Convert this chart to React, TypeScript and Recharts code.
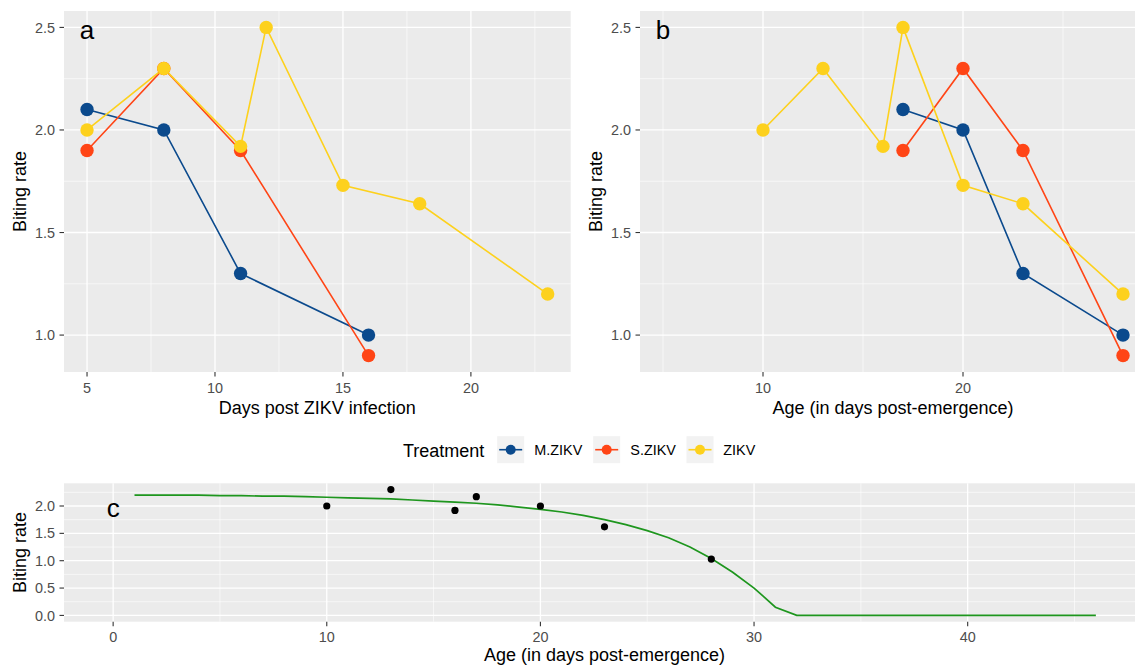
import React from 'react';
import { ComposedChart, Line, XAxis, YAxis, CartesianGrid, ReferenceDot } from 'recharts';

// ---------- data ----------
const treatments = ['M.ZIKV', 'S.ZIKV', 'ZIKV'];
const colors = ['#0B4A8D', '#FF4516', '#FDD11D'];

// panel a: days post infection
const mDays = [5, 8, 11, 16];
const sDays = [5, 8, 11, 16];
const zDays = [5, 8, 11, 12, 15, 18, 23];
// panel b: age (days post-emergence)
const mAge = [17, 20, 23, 28];
const sAge = [17, 20, 23, 28];
const zAge = [10, 13, 16, 17, 20, 23, 28];
// biting rates
const mRate = [2.1, 2.0, 1.3, 1.0];
const sRate = [1.9, 2.3, 1.9, 0.9];
const zRate = [2.0, 2.3, 1.92, 2.5, 1.73, 1.64, 1.2];

// panel c: mean biting rate by age and fitted curve
const meanAge = [10, 13, 16, 17, 20, 23, 28];
const meanRate = [2.0, 2.3, 1.92, 2.17, 2.0, 1.62, 1.03];
const fitAge = [1, 2, 3, 4, 5, 6, 7, 8, 9, 10, 11, 12, 13, 14, 15, 16, 17, 18, 19, 20, 21, 22, 23, 24, 25, 26, 27, 28, 29, 30, 31, 32, 33, 34, 35, 36, 37, 38, 39, 40, 41, 42, 43, 44, 45, 46];
const fitRate = [2.20, 2.20, 2.20, 2.20, 2.19, 2.19, 2.18, 2.18, 2.17, 2.16, 2.15, 2.14, 2.13, 2.11, 2.09, 2.07, 2.05, 2.02, 1.98, 1.94, 1.89, 1.83, 1.75, 1.66, 1.55, 1.42, 1.25, 1.04, 0.79, 0.50, 0.15, 0, 0, 0, 0, 0, 0, 0, 0, 0, 0, 0, 0, 0, 0, 0];

// tick values
const ticksAX = [5, 10, 15, 20];
const minorAX = [7.5, 12.5, 17.5, 22.5];
const ticksBX = [10, 20];
const minorBX = [5, 15, 25];
const ticksABY = [1.0, 1.5, 2.0, 2.5];
const minorABY = [1.25, 1.75, 2.25];
const ticksCX = [0, 10, 20, 30, 40];
const minorCX = [5, 15, 25, 35, 45];
const ticksCY = [0, 0.5, 1.0, 1.5, 2.0];
const minorCY = [0.25, 0.75, 1.25, 1.75, 2.25];

const zip = (xs: number[], ys: number[]) => xs.map((x, i) => ({ x, y: ys[i] }));

const seriesA = [zip(mDays, mRate), zip(sDays, sRate), zip(zDays, zRate)];
const seriesB = [zip(mAge, mRate), zip(sAge, sRate), zip(zAge, zRate)];
const meanPts = zip(meanAge, meanRate);
const fitPts = zip(fitAge, fitRate);

// ---------- styles ----------
const FONT = '"Liberation Sans", Arial, Helvetica, sans-serif';
const BG = '#EBEBEB';
const tickStyle = { fill: '#4D4D4D', fontSize: 14.4, fontFamily: FONT };
const tickLine = { stroke: '#333333', strokeWidth: 1.1 };
const fmt1 = (v: number) => v.toFixed(1);

const letter = (txt: string) => (props: any) => (
  <text x={props.cx} y={props.cy} dy="0.43em" textAnchor="middle" fontSize={26} fontFamily={FONT} fill="#000">
    {txt}
  </text>
);

const renderLines = (series: { x: number; y: number }[][]) => [
  ...series.map((d, i) => (
    <Line key={'l' + i} data={d} dataKey="y" type="linear" stroke={colors[i]} strokeWidth={1.6} dot={false} activeDot={false} isAnimationActive={false} />
  )),
  ...series.map((d, i) => (
    <Line key={'p' + i} data={d} dataKey="y" type="linear" stroke="none" strokeWidth={0} dot={{ r: 6.7, fill: colors[i], stroke: 'none', strokeWidth: 0 }} activeDot={false} isAnimationActive={false} />
  )),
];

export default function App() {
  return (
    <div style={{ position: 'absolute', left: 0, top: 0, width: 1135, height: 667, overflow: 'hidden', background: '#fff', fontFamily: FONT }}>
      {/* Panel a */}
      <div style={{ position: 'absolute', left: 0, top: 0 }}>
        <ComposedChart width={580} height={420} margin={{ top: 11, right: 9.3, bottom: 0, left: 0 }}>
          <CartesianGrid fill={BG} stroke="#FFFFFF" strokeWidth={0.6} verticalValues={minorAX} horizontalValues={minorABY} />
          <CartesianGrid fill="none" stroke="#FFFFFF" strokeWidth={1.3} verticalValues={ticksAX} horizontalValues={ticksABY} />
          <XAxis type="number" dataKey="x" domain={[4.1, 23.9]} allowDataOverflow ticks={ticksAX} height={48} axisLine={false} tickLine={tickLine} tickSize={4.5} tickMargin={6.5} tick={tickStyle} />
          <YAxis type="number" dataKey="y" domain={[0.82, 2.58]} allowDataOverflow ticks={ticksABY} width={64} axisLine={false} tickLine={tickLine} tickSize={4.5} tickMargin={4.5} tick={tickStyle} tickFormatter={fmt1} />
          {renderLines(seriesA)}
          <ReferenceDot x={5} y={2.5} r={0} shape={letter('a')} />
        </ComposedChart>
      </div>

      {/* Panel b */}
      <div style={{ position: 'absolute', left: 580, top: 0 }}>
        <ComposedChart width={576} height={420} margin={{ top: 11, right: 10, bottom: 0, left: 0 }}>
          <CartesianGrid fill={BG} stroke="#FFFFFF" strokeWidth={0.6} verticalValues={minorBX} horizontalValues={minorABY} />
          <CartesianGrid fill="none" stroke="#FFFFFF" strokeWidth={1.3} verticalValues={ticksBX} horizontalValues={ticksABY} />
          <XAxis type="number" dataKey="x" domain={[3.85, 29.15]} allowDataOverflow ticks={ticksBX} height={48} axisLine={false} tickLine={tickLine} tickSize={4.5} tickMargin={6.5} tick={tickStyle} />
          <YAxis type="number" dataKey="y" domain={[0.82, 2.58]} allowDataOverflow ticks={ticksABY} width={60} axisLine={false} tickLine={tickLine} tickSize={4.5} tickMargin={4.5} tick={tickStyle} tickFormatter={fmt1} />
          {renderLines(seriesB)}
          <ReferenceDot x={5} y={2.5} r={0} shape={letter('b')} />
        </ComposedChart>
      </div>

      {/* Panel c */}
      <div style={{ position: 'absolute', left: 0, top: 470 }}>
        <ComposedChart width={1155} height={197} margin={{ top: 13.3, right: 10, bottom: 0, left: 0 }}>
          <CartesianGrid fill={BG} stroke="#FFFFFF" strokeWidth={0.6} verticalValues={minorCX} horizontalValues={minorCY} />
          <CartesianGrid fill="none" stroke="#FFFFFF" strokeWidth={1.3} verticalValues={ticksCX} horizontalValues={ticksCY} />
          <XAxis type="number" dataKey="x" domain={[-2.3, 48.3]} allowDataOverflow ticks={ticksCX} height={45.3} axisLine={false} tickLine={tickLine} tickSize={4.5} tickMargin={6} tick={tickStyle} />
          <YAxis type="number" dataKey="y" domain={[-0.115, 2.415]} allowDataOverflow ticks={ticksCY} width={64} axisLine={false} tickLine={tickLine} tickSize={4.5} tickMargin={4.5} tick={tickStyle} tickFormatter={fmt1} />
          <Line data={fitPts} dataKey="y" type="linear" stroke="#1E961E" strokeWidth={1.7} dot={false} activeDot={false} isAnimationActive={false} />
          <Line data={meanPts} dataKey="y" type="linear" stroke="none" strokeWidth={0} dot={{ r: 3.6, fill: '#000', stroke: 'none', strokeWidth: 0 }} activeDot={false} isAnimationActive={false} />
          <ReferenceDot x={0} y={2.0} r={0} shape={letter('c')} />
        </ComposedChart>
      </div>

      {/* Axis titles and legend */}
      <svg width={1135} height={667} style={{ position: 'absolute', left: 0, top: 0, pointerEvents: 'none' }}>
        <g fontFamily={FONT} fill="#000">
          <text x={317.3} y={414} textAnchor="middle" fontSize={18}>Days post ZIKV infection</text>
          <text x={20} y={191.5} textAnchor="middle" dominantBaseline="central" fontSize={18} transform="rotate(-90 20 191.5)">Biting rate</text>
          <text x={893} y={414} textAnchor="middle" fontSize={18}>Age (in days post-emergence)</text>
          <text x={596} y={191.5} textAnchor="middle" dominantBaseline="central" fontSize={18} transform="rotate(-90 596 191.5)">Biting rate</text>
          <text x={604.5} y={661} textAnchor="middle" fontSize={18}>Age (in days post-emergence)</text>
          <text x={20} y={552.5} textAnchor="middle" dominantBaseline="central" fontSize={18} transform="rotate(-90 20 552.5)">Biting rate</text>

          <text x={403} y={457} fontSize={18}>Treatment</text>
          {treatments.map((t, i) => {
            const cx = [510.7, 606.7, 700][i];
            const lx = [534.3, 630.3, 723.3][i];
            return (
              <g key={t}>
                <rect x={cx - 13.5} y={436.2} width={27} height={27} fill="#F2F2F2" />
                <line x1={cx - 11.5} x2={cx + 11.5} y1={449.7} y2={449.7} stroke={colors[i]} strokeWidth={1.6} />
                <circle cx={cx} cy={449.7} r={5} fill={colors[i]} />
                <text x={lx} y={454.9} fontSize={14.4} fill="#000">{t}</text>
              </g>
            );
          })}
        </g>
      </svg>
    </div>
  );
}
